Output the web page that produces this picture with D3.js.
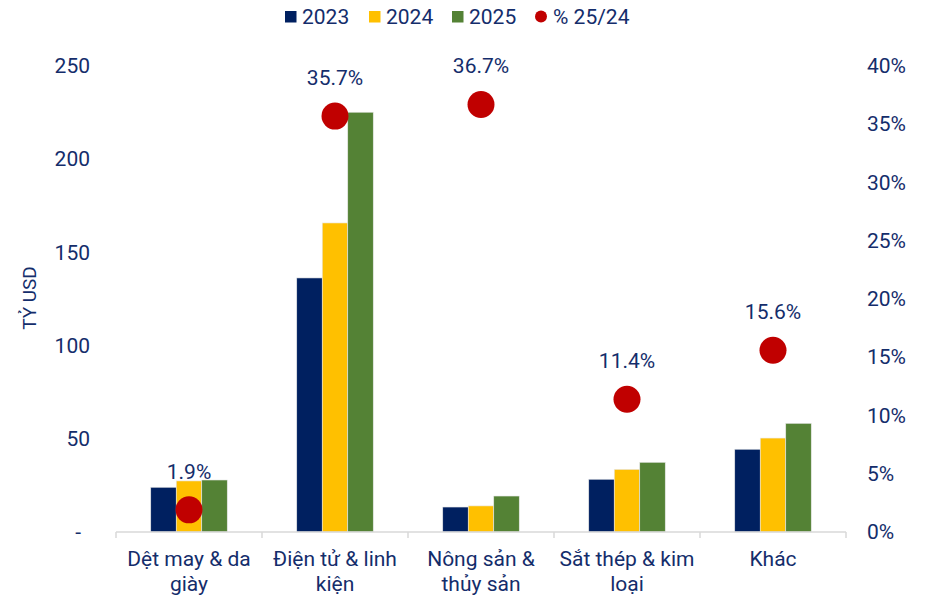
<!DOCTYPE html>
<html>
<head>
<meta charset="UTF-8" />
<script src="https://d3js.org/d3.v7.min.js"></script>
<style>
  body { margin: 0; background: #fff; }
  text { font-family: Roboto, "Noto Sans", sans-serif; fill: #142d6b; }
</style>
</head>
<body>
<div id="chart"></div>
<script>
// chart data
const categories = [
  ['Dệt may & da', 'giày'],
  ['Điện tử & linh', 'kiện'],
  ['Nông sản &', 'thủy sản'],
  ['Sắt thép & kim', 'loại'],
  ['Khác']
]
const years = ['2023', '2024', '2025']
const v2023 = [24.0, 136.3, 13.4, 28.3, 44.4]
const v2024 = [27.4, 165.8, 14.0, 33.6, 50.4]
const v2025 = [27.9, 225.2, 19.3, 37.4, 58.3]
const growth = [1.9, 35.7, 36.7, 11.4, 15.6]
const leftTicks = [0, 50, 100, 150, 200, 250]
const rightTicks = [0, 5, 10, 15, 20, 25, 30, 35, 40]

const colors = ['#002060', '#ffc000', '#548235']
const red = '#c00000'
const FS = '21px'

const W = 926, H = 599
const margin = { top: 66, right: 80, bottom: 67, left: 116 }
const width = W - margin.left - margin.right,
      height = H - margin.top - margin.bottom

const svg = d3.select('#chart').append('svg')
  .attr('width', W).attr('height', H)
const g = svg.append('g')
  .attr('transform', `translate(${margin.left}, ${margin.top})`)

const x = d3.scaleBand().domain(d3.range(categories.length)).range([0, width]).padding(0)
const xs = d3.scaleBand().domain(years).range([x.bandwidth() * 0.238, x.bandwidth() * 0.762]).padding(0)
const y = d3.scaleLinear().domain([0, 250]).range([height, 0])
const y2 = d3.scaleLinear().domain([0, 40]).range([height, 0])

// left axis
const yAxis = g.append('g')
  .call(d3.axisLeft(y).tickValues(leftTicks).tickSize(0).tickPadding(26)
    .tickFormat(d => d === 0 ? '-' : d))
yAxis.select('.domain').remove()
yAxis.selectAll('text').style('font-size', FS).style('fill', '#142d6b')
  .style('font-family', 'Roboto')
  .attr('dx', d => d === 0 ? -9 : 0)

// right axis
const yAxis2 = g.append('g').attr('transform', `translate(${width}, 0)`)
  .call(d3.axisRight(y2).tickValues(rightTicks).tickSize(0).tickPadding(21)
    .tickFormat(d => d + '%'))
yAxis2.select('.domain').remove()
yAxis2.selectAll('text').style('font-size', FS).style('fill', '#142d6b')
  .style('font-family', 'Roboto')

// y title
svg.append('text')
  .attr('transform', 'translate(36, 298) rotate(-90)')
  .attr('text-anchor', 'middle')
  .style('font-size', '19px')
  .text('TỶ USD')

// bars
const series = [v2023, v2024, v2025]
series.forEach((vals, si) => {
  g.selectAll('.bar' + si)
    .data(vals)
    .join('rect')
    .attr('x', (d, i) => x(i) + xs(years[si]))
    .attr('y', d => y(d))
    .attr('width', xs.bandwidth())
    .attr('height', d => height - y(d))
    .attr('fill', colors[si])
    .attr('stroke', '#e8e8e8')
    .attr('stroke-width', 0.6)
})

// baseline and category ticks
g.append('line')
  .attr('x1', 0).attr('x2', width)
  .attr('y1', height).attr('y2', height)
  .attr('stroke', '#d9d9d9').attr('stroke-width', 1.5)
g.selectAll('.ctick')
  .data(d3.range(categories.length + 1))
  .join('line')
  .attr('x1', i => i * x.step()).attr('x2', i => i * x.step())
  .attr('y1', height).attr('y2', height + 6)
  .attr('stroke', '#d9d9d9').attr('stroke-width', 1.5)

// category labels
categories.forEach((lines, i) => {
  const t = g.append('text')
    .attr('text-anchor', 'middle')
    .attr('x', x(i) + x.bandwidth() / 2)
    .attr('y', height + 34)
    .style('font-size', FS)
  lines.forEach((ln, k) => {
    t.append('tspan')
      .attr('x', x(i) + x.bandwidth() / 2)
      .attr('dy', k === 0 ? 0 : 25)
      .text(ln)
  })
})

// growth dots
g.selectAll('.dot')
  .data(growth)
  .join('circle')
  .attr('cx', (d, i) => x(i) + x.bandwidth() / 2)
  .attr('cy', d => y2(d))
  .attr('r', 13.5)
  .attr('fill', red)

g.selectAll('.glabel')
  .data(growth)
  .join('text')
  .attr('text-anchor', 'middle')
  .attr('x', (d, i) => x(i) + x.bandwidth() / 2)
  .attr('y', d => y2(d) - 31)
  .style('font-size', FS)
  .text(d => d.toFixed(1) + '%')

// legend
const legend = svg.append('g').attr('transform', 'translate(285, 0)')
const items = [
  { label: '2023', color: colors[0], shape: 'rect', x: 0 },
  { label: '2024', color: colors[1], shape: 'rect', x: 84 },
  { label: '2025', color: colors[2], shape: 'rect', x: 167 },
  { label: '% 25/24', color: red, shape: 'circle', x: 250 }
]
items.forEach(it => {
  if (it.shape === 'rect') {
    legend.append('rect').attr('x', it.x).attr('y', 11)
      .attr('width', 11.5).attr('height', 11.5).attr('fill', it.color)
  } else {
    legend.append('circle').attr('cx', it.x + 6).attr('cy', 16.5)
      .attr('r', 6).attr('fill', it.color)
  }
  legend.append('text').attr('x', it.x + (it.shape === 'rect' ? 17 : 18)).attr('y', 24)
    .style('font-size', FS).text(it.label)
})
</script>
</body>
</html>
